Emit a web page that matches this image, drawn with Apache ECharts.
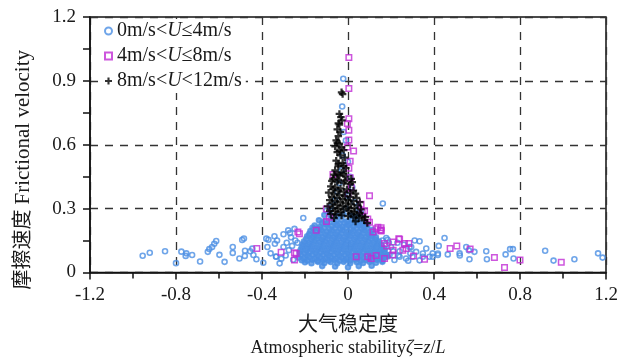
<!DOCTYPE html>
<html>
<head>
<meta charset="utf-8">
<script src="https://cdn.jsdelivr.net/npm/echarts/dist/echarts.min.js"></script>
<style>
  html, body { margin: 0; padding: 0; background: #fff; }
  #chart { width: 637px; height: 362px; }
</style>
</head>
<body>
<div id="chart"></div>
<script>
// 图例名称
const seriesNames = ['0m/s<U≤4m/s', '4m/s<U≤8m/s', '8m/s<U<12m/s']
// 坐标轴刻度
const xTicks = [-1.2, -0.8, -0.4, 0, 0.4, 0.8, 1.2]
const yTicks = [0, 0.3, 0.6, 0.9, 1.2]

// 0m/s<U≤4m/s 蓝色圆圈 [ζ, u*]，稀疏点
const lowWind = [
  // 左侧
  [-0.955,0.079],[-0.922,0.093],[-0.851,0.10],[-0.80,0.044],[-0.775,0.098],[-0.752,0.09],[-0.755,0.078],
  [-0.725,0.082],[-0.688,0.052],[-0.652,0.097],[-0.645,0.11],[-0.632,0.12],[-0.622,0.135],[-0.613,0.148],
  [-0.598,0.083],[-0.574,0.05],[-0.536,0.12],[-0.536,0.092],[-0.505,0.066],[-0.492,0.153],[-0.484,0.16],
  [-0.479,0.102],[-0.48,0.078],[-0.455,0.10],[-0.445,0.112],[-0.44,0.082],[-0.426,0.062],[-0.394,0.046],
  [-0.38,0.159],[-0.375,0.12],[-0.37,0.154],[-0.36,0.09],[-0.342,0.17],[-0.34,0.135],[-0.335,0.075],
  [-0.334,0.074],[-0.33,0.15],[-0.318,0.043],[-0.31,0.065],[-0.30,0.18],[-0.30,0.12],[-0.29,0.08],
  [-0.285,0.14],[-0.278,0.198],[-0.275,0.105],[-0.27,0.185],[-0.265,0.165],[-0.26,0.125],[-0.255,0.06],
  [-0.249,0.205],[-0.245,0.15],[-0.235,0.14],[-0.208,0.256],[-0.179,0.175],[-0.165,0.21],
  // 峰值柱内
  [-0.022,0.91],[-0.027,0.78],[-0.02,0.66],[-0.01,0.62],[-0.025,0.55],[0.0,0.52],[-0.03,0.48],[0.01,0.45],
  [-0.04,0.42],[0.02,0.40],[-0.05,0.38],[0.0,0.36],[-0.06,0.34],[0.03,0.33],[-0.08,0.31],[0.05,0.30],
  [-0.1,0.29],[0.06,0.28],[-0.01,0.30],[0.162,0.324],
  // 右侧
  [0.16,0.15],[0.17,0.113],[0.178,0.162],[0.184,0.153],[0.19,0.14],[0.193,0.082],[0.2,0.12],[0.21,0.10],
  [0.216,0.059],[0.23,0.14],[0.235,0.08],[0.24,0.074],[0.24,0.10],[0.26,0.13],[0.27,0.066],[0.28,0.055],
  [0.286,0.12],[0.29,0.09],[0.294,0.12],[0.30,0.074],[0.31,0.15],[0.317,0.097],[0.333,0.147],[0.333,0.057],
  [0.348,0.089],[0.348,0.074],[0.364,0.113],[0.379,0.074],[0.394,0.09],[0.394,0.074],[0.418,0.082],
  [0.418,0.089],[0.422,0.125],[0.449,0.162],[0.464,0.085],[0.519,0.09],[0.52,0.08],[0.55,0.12],
  [0.562,0.104],[0.565,0.062],[0.588,0.097],[0.643,0.10],[0.646,0.062],[0.733,0.085],[0.754,0.11],
  [0.767,0.11],[0.77,0.066],[0.917,0.102],[0.956,0.056],[1.053,0.062],[1.163,0.09],[1.184,0.07]
]

// 0m/s<U≤4m/s 中心密集区（重叠成实心）
const lowWindCore = [
  [-0.11,0.27],[-0.085,0.275],[-0.05,0.265],[-0.02,0.272],[0.015,0.268],[0.04,0.262],
  [-0.135,0.245],[-0.11,0.24],[-0.08,0.25],[-0.055,0.243],[-0.03,0.248],[-0.005,0.24],[0.02,0.246],[0.045,0.24],[0.07,0.235],
  [-0.12,0.232],[-0.095,0.23],[-0.065,0.234],[-0.04,0.229],[-0.015,0.233],[0.01,0.23],[0.035,0.232],[0.06,0.228],
  [-0.155,0.22],[-0.13,0.215],[-0.1,0.225],[-0.075,0.218],[-0.05,0.222],[-0.025,0.215],[0.0,0.223],[0.025,0.217],[0.05,0.221],[0.075,0.214],[0.09,0.222],
  [-0.16,0.207],[-0.135,0.205],[-0.11,0.209],[-0.085,0.204],[-0.06,0.208],[-0.035,0.205],[-0.01,0.209],[0.015,0.204],[0.04,0.208],[0.065,0.205],[0.09,0.207],
  [-0.175,0.195],[-0.15,0.19],[-0.125,0.198],[-0.1,0.192],[-0.075,0.196],[-0.05,0.19],[-0.025,0.197],[0.0,0.19],[0.025,0.195],[0.05,0.19],[0.075,0.197],[0.1,0.19],[0.115,0.2],
  [-0.18,0.182],[-0.155,0.18],[-0.13,0.184],[-0.105,0.179],[-0.08,0.183],[-0.055,0.18],[-0.03,0.184],[-0.005,0.179],[0.02,0.183],[0.045,0.18],[0.07,0.184],[0.095,0.179],[0.12,0.182],
  [-0.19,0.17],[-0.165,0.165],[-0.14,0.172],[-0.115,0.166],[-0.09,0.171],[-0.065,0.165],[-0.04,0.17],[-0.015,0.166],[0.01,0.172],[0.035,0.165],[0.06,0.17],[0.085,0.166],[0.11,0.171],[0.13,0.165],
  [-0.195,0.157],[-0.17,0.155],[-0.145,0.159],[-0.12,0.154],[-0.095,0.158],[-0.07,0.155],[-0.045,0.159],[-0.02,0.154],[0.005,0.158],[0.03,0.155],[0.055,0.159],[0.08,0.154],[0.105,0.158],[0.13,0.155],
  [-0.205,0.145],[-0.18,0.14],[-0.155,0.148],[-0.13,0.142],[-0.105,0.147],[-0.08,0.14],[-0.055,0.146],[-0.03,0.141],[-0.005,0.147],[0.02,0.14],[0.045,0.146],[0.07,0.141],[0.095,0.147],[0.12,0.14],[0.145,0.145],
  [-0.21,0.132],[-0.185,0.13],[-0.16,0.134],[-0.135,0.129],[-0.11,0.133],[-0.085,0.13],[-0.06,0.134],[-0.035,0.129],[-0.01,0.133],[0.015,0.13],[0.04,0.134],[0.065,0.129],[0.09,0.133],[0.115,0.13],[0.14,0.134],[0.155,0.128],
  [-0.215,0.12],[-0.19,0.115],[-0.165,0.122],[-0.14,0.116],[-0.115,0.121],[-0.09,0.115],[-0.065,0.122],[-0.04,0.116],[-0.015,0.121],[0.01,0.115],[0.035,0.122],[0.06,0.116],[0.085,0.121],[0.11,0.115],[0.135,0.12],[0.16,0.116],
  [-0.22,0.107],[-0.195,0.105],[-0.17,0.109],[-0.145,0.104],[-0.12,0.108],[-0.095,0.105],[-0.07,0.109],[-0.045,0.104],[-0.02,0.108],[0.005,0.105],[0.03,0.109],[0.055,0.104],[0.08,0.108],[0.105,0.105],[0.13,0.109],[0.155,0.104],[0.17,0.108],
  [-0.225,0.095],[-0.2,0.09],[-0.175,0.097],[-0.15,0.091],[-0.125,0.096],[-0.1,0.09],[-0.075,0.097],[-0.05,0.091],[-0.025,0.096],[0.0,0.09],[0.025,0.097],[0.05,0.091],[0.075,0.096],[0.1,0.09],[0.125,0.097],[0.15,0.091],[0.17,0.096],
  [-0.22,0.082],[-0.19,0.08],[-0.165,0.084],[-0.14,0.079],[-0.115,0.083],[-0.09,0.08],[-0.065,0.084],[-0.04,0.079],[-0.015,0.083],[0.01,0.08],[0.035,0.084],[0.06,0.079],[0.085,0.083],[0.11,0.08],[0.135,0.084],[0.16,0.079],[0.18,0.083],
  [-0.23,0.07],[-0.205,0.065],[-0.18,0.072],[-0.155,0.066],[-0.13,0.071],[-0.105,0.065],[-0.08,0.072],[-0.055,0.066],[-0.03,0.071],[-0.005,0.065],[0.02,0.072],[0.045,0.066],[0.07,0.071],[0.095,0.065],[0.12,0.072],[0.145,0.066],[0.17,0.07],[0.185,0.075],
  [-0.215,0.058],[-0.19,0.056],[-0.165,0.06],[-0.14,0.055],[-0.115,0.059],[-0.09,0.056],[-0.065,0.06],[-0.04,0.055],[-0.015,0.059],[0.01,0.056],[0.035,0.06],[0.06,0.055],[0.085,0.059],[0.11,0.056],[0.135,0.06],[0.16,0.055],
  [-0.2,0.048],[-0.17,0.044],[-0.14,0.05],[-0.11,0.045],[-0.08,0.049],[-0.05,0.043],[-0.02,0.05],[0.01,0.044],[0.04,0.049],[0.07,0.045],[0.1,0.05],[0.13,0.046],[0.16,0.05],
  [-0.12,0.03],[-0.06,0.028],[0.0,0.025],[0.05,0.03],[0.11,0.032]
]

// 4m/s<U≤8m/s 紫色方框
const midWind = [
  [0.004,1.01],[0.004,0.864],[0.004,0.722],[-0.003,0.70],[0.004,0.668],[0.004,0.622],[-0.003,0.59],
  [0.026,0.571],[0.01,0.522],[0.004,0.49],[-0.07,0.46],[0.01,0.445],[0.015,0.40],[0.0,0.37],[0.1,0.36],
  [0.061,0.32],[-0.101,0.298],[0.066,0.286],[0.077,0.29],[0.092,0.251],[0.1,0.236],[0.131,0.205],
  [0.139,0.213],[0.15,0.20],[0.154,0.198],[0.154,0.21],[0.154,0.195],[0.116,0.19],[0.17,0.136],
  [0.18,0.125],[0.17,0.066],[0.236,0.159],[0.24,0.156],[0.21,0.143],[0.263,0.136],[0.283,0.136],
  [0.27,0.113],[0.255,0.105],[0.21,0.105],[0.208,0.082],[0.305,0.077],[0.092,0.074],[0.038,0.074],
  [0.108,0.066],[0.131,0.08],[0.356,0.062],[0.475,0.113],[0.506,0.125],[0.568,0.11],[0.681,0.07],
  [0.728,0.023],[0.80,0.059],[0.992,0.048],
  [-0.086,0.26],[-0.1,0.24],[-0.148,0.198],[-0.226,0.182],[-0.233,0.19],[-0.249,0.093],[-0.241,0.089],
  [-0.311,0.095],[-0.249,0.059],[-0.424,0.113]
]

// 8m/s<U<12m/s 黑色十字
const highWind = [
  [-0.03,0.846],[-0.025,0.838],[-0.033,0.73],[-0.028,0.715],[-0.04,0.745],[-0.045,0.70],[-0.04,0.695],
  [-0.05,0.672],[-0.035,0.66],[-0.045,0.64],[-0.055,0.62],[-0.05,0.61],[-0.04,0.605],[-0.06,0.592],
  [-0.03,0.588],[-0.02,0.575],[-0.04,0.57],[-0.05,0.565],[-0.035,0.55],[-0.015,0.54],[-0.055,0.525],
  [-0.025,0.515],[-0.045,0.51],[-0.045,0.50],[-0.02,0.50],[-0.01,0.49],[-0.06,0.48],[-0.03,0.47],
  [-0.02,0.465],[-0.065,0.46],[-0.05,0.46],[-0.04,0.455],[-0.01,0.45],[0.015,0.44],[-0.07,0.44],
  [-0.045,0.435],[-0.015,0.43],[0.02,0.425],[-0.075,0.43],[-0.05,0.425],[-0.02,0.42],[0.01,0.415],
  [-0.08,0.405],[-0.06,0.40],[-0.035,0.395],[-0.005,0.39],[0.025,0.385],[-0.07,0.39],[-0.045,0.385],
  [-0.02,0.38],[0.01,0.375],[0.035,0.37],[-0.09,0.375],[-0.065,0.37],[-0.04,0.365],[-0.015,0.36],
  [0.01,0.355],[0.04,0.35],[-0.075,0.355],[-0.05,0.35],[-0.025,0.345],[0.0,0.34],[0.025,0.335],
  [0.055,0.33],[-0.085,0.34],[-0.06,0.335],[-0.035,0.33],[-0.01,0.325],[-0.075,0.325],[-0.05,0.318],
  [0.015,0.32],[0.045,0.315],[-0.025,0.312],[0.0,0.308],[-0.095,0.31],[-0.07,0.305],[0.03,0.302],
  [-0.045,0.30],[0.06,0.297],[-0.02,0.295],[0.005,0.29],[-0.085,0.29],[-0.06,0.288],[0.03,0.285],
  [-0.035,0.283],[0.055,0.28],[0.015,0.277],[-0.08,0.275],[-0.055,0.272],[0.04,0.272],[-0.03,0.268],
  [0.0,0.265],[0.065,0.265],[0.025,0.26],[0.08,0.26],[0.05,0.255],[-0.065,0.255],[0.075,0.245],
  [0.035,0.24],[0.09,0.232]
]

const serif = "'Liberation Serif', 'Noto Sans CJK SC', serif"
const colors = ['#4b8fe3', '#c02cd4', '#000000']

const chart = echarts.init(document.getElementById('chart'))

// 图例里的 U 用斜体
const legendRich = {
  a: { fontFamily: serif, fontSize: 20, color: '#1a1a1a' },
  i: { fontFamily: serif, fontSize: 20, fontStyle: 'italic', color: '#1a1a1a' }
}
const legendText = name => {
  const idx = name.indexOf('U')
  return `{a|${name.slice(0, idx)}}{i|U}{a|${name.slice(idx + 1)}}`
}

const axisColor = '#111'
const gridLine = { show: true, lineStyle: { color: '#333', width: 1.3, type: [8, 7] } }

const option = {
  animation: false,
  backgroundColor: '#fff',
  grid: {
    left: 90, top: 17, right: 31, bottom: 86,
    show: true, borderColor: axisColor, borderWidth: 1.5
  },
  legend: {
    orient: 'vertical',
    left: 100, top: 19,
    itemWidth: 7, itemHeight: 7,
    itemGap: 3,
    padding: [1, 4, 1, 4],
    backgroundColor: '#fff',
    data: seriesNames,
    formatter: legendText,
    textStyle: { rich: legendRich, lineHeight: 22 }
  },
  xAxis: {
    type: 'value',
    min: xTicks[0], max: xTicks[xTicks.length - 1], interval: 0.4,
    axisLine: { onZero: false, lineStyle: { color: axisColor, width: 1.5 } },
    axisTick: { show: true, length: 7, lineStyle: { color: axisColor, width: 1.5 } },
    minorTick: { show: true, splitNumber: 2, length: 6, lineStyle: { color: axisColor, width: 1.5 } },
    axisLabel: {
      margin: 13, fontFamily: serif, fontSize: 19, color: '#1a1a1a',
      formatter: v => String(Math.round(v * 10) / 10)
    },
    splitLine: gridLine,
    name: '{c|大气稳定度}\n{e|Atmospheric stability}{i|ζ}{e|=}{i|z}{e|/}{i|L}',
    nameLocation: 'middle',
    nameGap: 42,
    nameTextStyle: {
      rich: {
        c: { fontFamily: serif, fontSize: 20, color: '#1a1a1a', lineHeight: 23 },
        e: { fontFamily: serif, fontSize: 18, color: '#1a1a1a', lineHeight: 21 },
        i: { fontFamily: serif, fontSize: 18, fontStyle: 'italic', color: '#1a1a1a', lineHeight: 21 }
      }
    }
  },
  yAxis: {
    type: 'value',
    min: yTicks[0], max: yTicks[yTicks.length - 1], interval: 0.3,
    axisLine: { show: true, onZero: false, lineStyle: { color: axisColor, width: 1.5 } },
    axisTick: { show: true, length: 7, lineStyle: { color: axisColor, width: 1.5 } },
    minorTick: { show: true, splitNumber: 2, length: 7, lineStyle: { color: axisColor, width: 1.5 } },
    axisLabel: {
      margin: 14, fontFamily: serif, fontSize: 19, color: '#1a1a1a',
      formatter: v => String(Math.round(v * 10) / 10)
    },
    splitLine: gridLine,
    name: '{c|摩擦速度 }{e|Frictional velocity}',
    nameLocation: 'middle',
    nameGap: 56,
    nameTextStyle: {
      padding: [0, 50, 0, 0],
      rich: {
        c: { fontFamily: serif, fontSize: 20, color: '#1a1a1a' },
        e: { fontFamily: serif, fontSize: 21, color: '#1a1a1a' }
      }
    }
  },
  series: [
    {
      name: seriesNames[0], type: 'scatter', z: 2,
      data: lowWind.concat(lowWindCore.map(p => ({ value: p, itemStyle: { color: colors[0] } }))),
      symbol: 'circle', symbolSize: 5,
      itemStyle: { color: 'rgba(255,255,255,0)', borderColor: colors[0], borderWidth: 1.6 }
    },
    {
      name: seriesNames[1], type: 'scatter', data: midWind, z: 3,
      symbol: 'rect', symbolSize: 5.5,
      itemStyle: { color: 'rgba(255,255,255,0)', borderColor: colors[1], borderWidth: 1.5 }
    },
    {
      name: seriesNames[2], type: 'scatter', data: highWind, z: 4,
      symbol: 'path://M3.5,0H6.5V3.5H10V6.5H6.5V10H3.5V6.5H0V3.5H3.5Z', symbolSize: 7.5,
      itemStyle: { color: colors[2] }
    }
  ]
}
chart.setOption(option)
</script>
</body>
</html>
